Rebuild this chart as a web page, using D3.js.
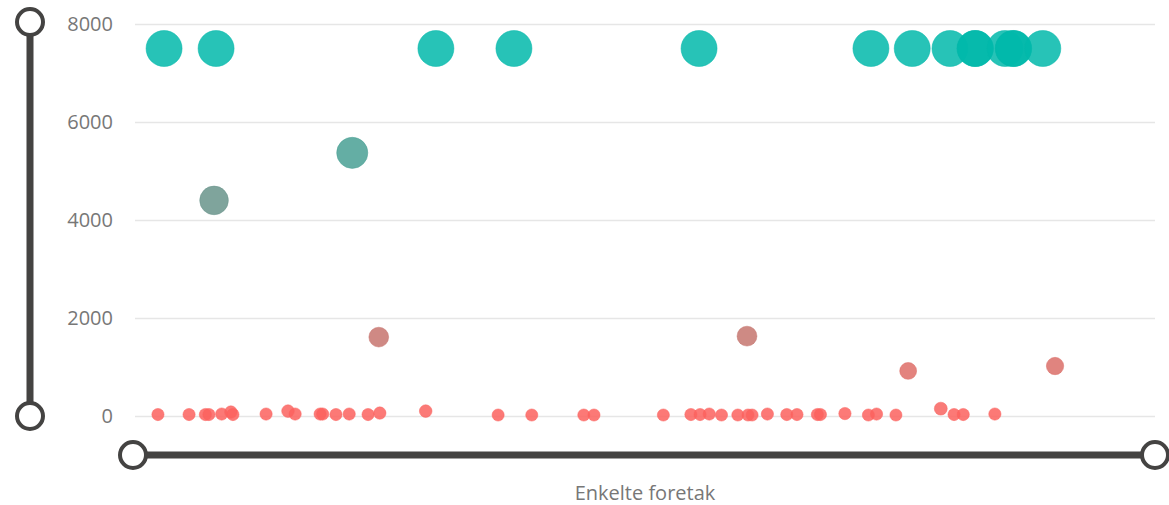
<!DOCTYPE html>
<html>
<head>
<meta charset="utf-8">
<script src="https://cdn.jsdelivr.net/npm/d3@7"></script>
<style>
  body { margin: 0; background: #fff; }
  svg text { font-family: "Segoe UI", "Open Sans", sans-serif; }
</style>
</head>
<body>
<svg width="1169" height="505"></svg>
<script>
// data: position of each foretak along the axis (0-100) and its value
var lowPos = [2.25, 5.3, 6.9, 7.25, 8.5, 9.4, 9.6, 12.85, 15.0, 15.7, 18.15, 18.4, 19.7, 21.0, 22.85, 24.0, 28.5,
              35.6, 38.9, 44.0, 45.0, 51.8, 54.5, 55.4, 56.3, 57.5, 59.1, 60.1, 60.5, 62.0, 63.9, 64.9,
              66.9, 67.2, 69.6, 71.9, 72.7, 74.6, 79.0, 80.3, 81.2, 84.3];
var lowVal = [30, 30, 30, 30, 40, 80, 30, 40, 100, 40, 40, 40, 30, 40, 30, 60, 100,
              20, 20, 20, 20, 20, 30, 30, 40, 20, 20, 20, 20, 40, 30, 30,
              30, 30, 50, 20, 40, 20, 150, 30, 30, 40];
var midPos = [7.75, 21.3, 23.9, 60.0, 75.8, 90.2];
var midVal = [4400, 5370, 1610, 1630, 920, 1020];
var topPos = [2.85, 7.95, 29.5, 37.15, 55.3, 72.15, 76.2, 79.9, 82.35, 82.4, 85.3, 86.1, 86.15, 89.0];
var topVal = [7500, 7500, 7500, 7500, 7500, 7500, 7500, 7500, 7500, 7500, 7500, 7500, 7500, 7500];
var yTicks = [0, 2000, 4000, 6000, 8000];
var xTitle = "Enkelte foretak";

var points = [];
function addPoints(pos, val) {
  pos.forEach(function(p, i) { points.push({x: p, v: val[i]}); });
}
addPoints(lowPos, lowVal);
addPoints(midPos, midVal);
addPoints(topPos, topVal);

var svg = d3.select("svg");

var x = d3.scaleLinear().domain([0, 100]).range([135, 1155]);
var y = d3.scaleLinear().domain([0, 8000]).range([416, 24]);
var r = d3.scaleRadial().domain([0, 7500]).range([6, 18]);
var color = d3.scaleLinear().domain([0, 7500]).range(["#FD625E", "#01B8AA"]);

// gridlines + tick labels
var yAxis = svg.append("g")
    .attr("transform", "translate(135,0)")
    .call(d3.axisLeft(y).tickValues(yTicks).tickSize(-1020).tickPadding(22).tickFormat(d3.format("d")));
yAxis.select(".domain").remove();
yAxis.selectAll(".tick line").attr("stroke", "#e6e6e6").attr("stroke-width", 1.5);
yAxis.selectAll(".tick text")
    .attr("fill", "#777")
    .style("font-size", "20px");

// points
svg.append("g")
  .selectAll("circle")
  .data(points)
  .enter().append("circle")
    .attr("cx", function(d) { return x(d.x); })
    .attr("cy", function(d) { return y(d.v); })
    .attr("r", function(d) { return r(d.v); })
    .attr("fill", function(d) { return color(d.v); })
    .attr("fill-opacity", 0.85)
    .attr("stroke", function(d) { return color(d.v); })
    .attr("stroke-opacity", 0.5)
    .attr("stroke-width", 1);

// range sliders
var dark = "#444342";
var vs = svg.append("g");
vs.append("line")
    .attr("x1", 30).attr("x2", 30)
    .attr("y1", y(8000)).attr("y2", y(0))
    .attr("stroke", dark).attr("stroke-width", 7);
vs.selectAll("circle")
  .data([8000, 0])
  .enter().append("circle")
    .attr("cx", 30).attr("cy", function(d) { return y(d) - (d ? 2 : 0); })
    .attr("r", 13)
    .attr("fill", "#fff").attr("stroke", dark).attr("stroke-width", 4);

var hs = svg.append("g");
hs.append("line")
    .attr("x1", 133).attr("x2", 1155)
    .attr("y1", 455).attr("y2", 455)
    .attr("stroke", dark).attr("stroke-width", 7);
hs.selectAll("circle")
  .data([133, 1155])
  .enter().append("circle")
    .attr("cx", function(d) { return d; }).attr("cy", 455)
    .attr("r", 13)
    .attr("fill", "#fff").attr("stroke", dark).attr("stroke-width", 4);

svg.append("text")
    .attr("x", 645).attr("y", 500)
    .attr("text-anchor", "middle")
    .attr("fill", "#777")
    .style("font-size", "20px")
    .text(xTitle);
</script>
</body>
</html>
